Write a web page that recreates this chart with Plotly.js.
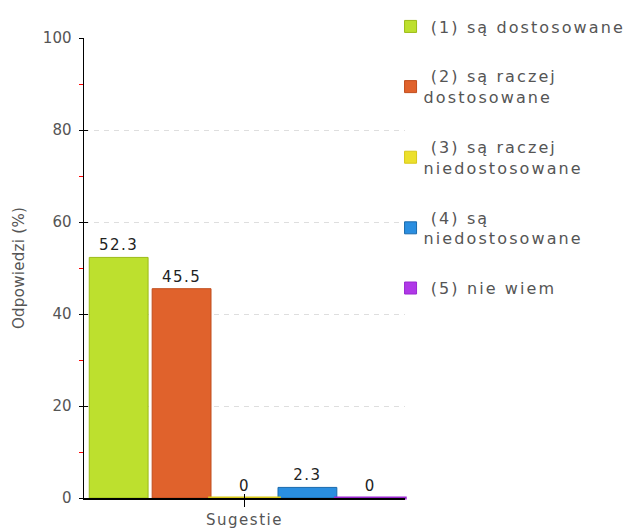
<!DOCTYPE html>
<html><head><meta charset="utf-8">
<script src="https://cdn.plot.ly/plotly-3.0.1.min.js"></script>
<style>
html,body{margin:0;padding:0;background:#fff}
#chart{width:632px;height:529px}
.legendtext{letter-spacing:2.1px;transform:translateX(-7px)}
.xtitle{letter-spacing:1.5px}
.bartext{letter-spacing:1.5px}
.ytitle{letter-spacing:0.3px}
</style>
</head><body><div id="chart"></div>
<script>
var category = ["Sugestie"];
var seriesNames = ["\u00a0(1) są dostosowane", "\u00a0(2) są raczej<br>dostosowane", "\u00a0(3) są raczej<br>niedostosowane", "\u00a0(4) są<br>niedostosowane", "\u00a0(5) nie wiem"];
var seriesValues = [52.3, 45.5, 0, 2.3, 0];
var fillColors = ["#bde02e", "#e0622c", "#ece02c", "#2a8ee0", "#b038e8"];
var lineColors = ["#9cbb17", "#c04d1c", "#d8c81a", "#1a6aac", "#9a28d0"];
var yTicks = [0, 20, 40, 60, 80, 100];

var font = "DejaVu Sans, Verdana, sans-serif";
var traces = seriesNames.map(function(n, i){
  return {
    type: "bar", name: n, x: category, y: [seriesValues[i]],
    marker: {color: fillColors[i], line: {color: lineColors[i], width: 1}},
    text: [String(seriesValues[i])], textposition: "outside",
    textfont: {family: font, size: 15, color: "#222"},
    cliponaxis: false, legendgroup: "g" + i, hoverinfo: "none"
  };
});
// zero-valued bars are drawn by the original as a thin coloured line on the baseline
seriesNames.forEach(function(n, i){
  traces.push({
    type: "scatter", mode: "markers", x: category, y: [seriesValues[i] === 0 ? seriesValues[i] : null],
    marker: {symbol: "line-ew", size: 52, line: {color: lineColors[i], width: 3}},
    cliponaxis: false, showlegend: false, hoverinfo: "none"
  });
});
traces.push({type: "scatter", x: [], y: [], xaxis: "x2", yaxis: "y2", showlegend: false, hoverinfo: "none"});

var layout = {
  width: 632, height: 529,
  margin: {l: 84, r: 227, t: 38, b: 31, autoexpand: false},
  paper_bgcolor: "#fff", plot_bgcolor: "#fff",
  font: {family: font, size: 15, color: "#555"},
  barmode: "group", bargap: 0.02, bargroupgap: 0.065,
  scattermode: "group", scattergap: 0.02,
  showlegend: true,
  legend: {x: 0.955, xanchor: "left", yref: "container", y: 0.982, yanchor: "top", maxheight: 520,
           traceorder: "grouped", tracegroupgap: 26,
           font: {family: font, size: 16, color: "#555"}, bgcolor: "rgba(0,0,0,0)"},
  xaxis: {type: "category", showline: true, linecolor: "#000", linewidth: 1.5, ticks: "outside", ticklen: 7,
          tickcolor: "#000", showticklabels: false, showgrid: false, zeroline: false, fixedrange: true,
          title: {text: "Sugestie", font: {family: font, size: 15, color: "#555"}, standoff: 10}},
  xaxis2: {overlaying: "x", matches: "x", type: "category", showline: false, ticks: "inside", ticklen: 4, tickcolor: "#000",
          showticklabels: false, showgrid: false, zeroline: false, visible: true},
  yaxis: {range: [0, 100], tickvals: yTicks, ticktext: yTicks.map(String), showline: true, linecolor: "#000", linewidth: 1.5,
          ticks: "outside", ticklen: 4, tickcolor: "#000", showgrid: true, gridcolor: "#dedede", griddash: "5px,5px",
          zeroline: false, tickfont: {family: font, size: 15, color: "#555"}, ticklabelstandoff: 4,
          minor: {tick0: 10, dtick: 20, ticks: "outside", ticklen: 4, tickcolor: "#f00", showgrid: false},
          title: {text: "Odpowiedzi (%)\u00a0\u00a0\u00a0\u00a0", font: {family: font, size: 15, color: "#555"}, standoff: 14}},
  yaxis2: {overlaying: "y", range: [0, 100], tickvals: yTicks, ticks: "inside", ticklen: 4, tickcolor: "#000",
          showticklabels: false, showgrid: false, zeroline: false, showline: false}
};
Plotly.newPlot("chart", traces, layout, {displayModeBar: false, staticPlot: true});
</script></body></html>
